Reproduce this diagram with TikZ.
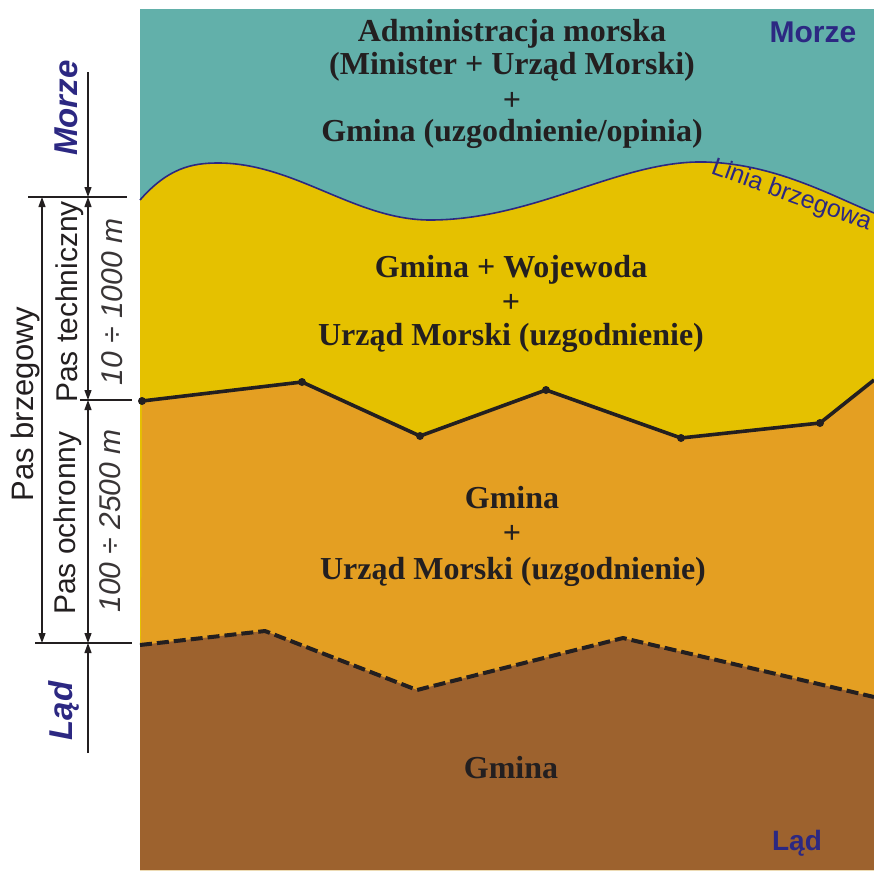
\documentclass[tikz,border=0pt]{standalone}
\usepackage{fontspec}
\setmainfont{Liberation Serif}
\setsansfont{Liberation Sans}
\usetikzlibrary{arrows.meta}
\definecolor{seaC}{RGB}{98,176,170}
\definecolor{techC}{RGB}{229,193,0}
\definecolor{protC}{RGB}{228,159,34}
\definecolor{landC}{RGB}{157,98,46}
\definecolor{navyC}{RGB}{44,40,130}
\definecolor{inkC}{RGB}{35,31,32}
\begin{document}
\begin{tikzpicture}[x=1pt,y=-1pt,
  maptext/.style={font=\fontsize{32}{34}\selectfont\bfseries, text=inkC, anchor=base, inner sep=0pt},
  sidetext/.style={font=\sffamily\fontsize{30}{30}\selectfont, text=inkC, anchor=base, inner sep=0pt, rotate=90},
  sidenum/.style={font=\sffamily\itshape\fontsize{30}{30}\selectfont, text=inkC!90, anchor=base, inner sep=0pt, rotate=90},
  sidezone/.style={font=\sffamily\bfseries\itshape\fontsize{33}{33}\selectfont, text=navyC, anchor=base, inner sep=0pt, rotate=90},
  cornerzone/.style={font=\sffamily\bfseries\fontsize{30}{30}\selectfont, text=navyC, anchor=base, inner sep=0pt},
  dimline/.style={draw=inkC, line width=1.2pt},
  dimarrow/.style={draw=inkC, line width=1.2pt, -{Triangle[length=10pt,width=7pt]}},
  dimboth/.style={draw=inkC, line width=1.2pt, {Triangle[length=10pt,width=7pt]}-{Triangle[length=10pt,width=7pt]}},
  vertex/.style={circle, fill=inkC, inner sep=0pt, minimum size=8pt}
]
\useasboundingbox (0,0) rectangle (874,870);

% ---- zones ----
\fill[seaC] (140,9) rectangle (874,870);
\fill[techC] (140,200) .. controls (168,168) and (192,163) .. (218,163)
  .. controls (295,163) and (355,220) .. (430,220)
  .. controls (535,220) and (620,160) .. (705,162)
  .. controls (775,164) and (830,195) .. (874,213)
  -- (874,870) -- (140,870) -- cycle;
\fill[protC] (142,401) -- (302,382) -- (420,436) -- (546,390) -- (681,438) -- (820,423) -- (874,380)
  -- (874,870) -- (140,870) -- cycle;
\fill[landC] (140,645) -- (265,631) -- (417,690) -- (623,638) -- (874,697)
  -- (874,870) -- (140,870) -- cycle;

% ---- boundaries ----
\draw[navyC, line width=1.6pt] (140,200) .. controls (168,168) and (192,163) .. (218,163)
  .. controls (295,163) and (355,220) .. (430,220)
  .. controls (535,220) and (620,160) .. (705,162)
  .. controls (775,164) and (830,195) .. (874,213);

\node[vertex] (v1) at (142,401) {};
\node[vertex] (v2) at (302,382) {};
\node[vertex] (v3) at (420,436) {};
\node[vertex] (v4) at (546,390) {};
\node[vertex] (v5) at (681,438) {};
\node[vertex] (v6) at (820,423) {};
\coordinate (v7) at (874,380);
\draw[inkC, line width=3.6pt, line join=round] (v1.center) -- (v2.center) -- (v3.center) -- (v4.center) -- (v5.center) -- (v6.center) -- (v7);

\coordinate (d1) at (140,645);
\coordinate (d2) at (265,631);
\coordinate (d3) at (417,690);
\coordinate (d4) at (623,638);
\coordinate (d5) at (874,697);
\draw[inkC, line width=4pt, dash pattern=on 12pt off 5pt, line join=round] (d1) -- (d2) -- (d3) -- (d4) -- (d5);

% ---- map texts ----
\node[maptext] (a1) at (512,41) {Administracja morska};
\node[maptext] (a2) at (512,74.5) {(Minister + Urząd Morski)};
\node[maptext] (a3) at (512,110) {+};
\node[maptext] (a4) at (512,141) {Gmina (uzgodnienie/opinia)};

\node[maptext] (b1) at (511,277) {Gmina + Wojewoda};
\node[maptext] (b2) at (511,312) {+};
\node[maptext] (b3) at (511,345) {Urząd Morski (uzgodnienie)};

\node[maptext] (c1) at (512,508) {Gmina};
\node[maptext] (c2) at (512,543) {+};
\node[maptext] (c3) at (513,579) {Urząd Morski (uzgodnienie)};

\node[maptext] (g1) at (511,778) {Gmina};

\node[cornerzone] (mz) at (813,42) {Morze};
\node[cornerzone, font=\sffamily\bfseries\fontsize{28}{28}\selectfont] (ld) at (797,850) {Ląd};

\node[font=\sffamily\fontsize{25}{25}\selectfont, text=navyC, anchor=base west, inner sep=0pt, rotate=-20] (lb) at (710,173) {Linia brzegowa};

% ---- left dimension scheme ----
\coordinate (m0) at (88,72);
\coordinate (t0) at (88,197);
\coordinate (t1) at (88,400);
\coordinate (o1) at (88,643);
\coordinate (l1) at (88,753);
\coordinate (bb0) at (42,197);
\coordinate (bb1) at (42,643);
\coordinate (h0a) at (28,197);
\coordinate (h0b) at (127,197);
\coordinate (h1a) at (80,400);
\coordinate (h1b) at (132,400);
\coordinate (h2a) at (35,643);
\coordinate (h2b) at (132,643);

\draw[dimline] (h0a) -- (h0b);
\draw[dimline] (h1a) -- (h1b);
\draw[dimline] (h2a) -- (h2b);
\draw[dimarrow] (m0) -- (t0);
\draw[dimboth] (t0) -- (t1);
\draw[dimboth] (t1) -- (o1);
\draw[dimarrow] (l1) -- (o1);
\draw[dimboth] (bb0) -- (bb1);

\node[sidezone] (lmz) at (77,108) {Morze};
\node[sidezone] (lld) at (72,711) {Ląd};
\node[sidetext, font=\sffamily\fontsize{31}{31}\selectfont] (pb) at (33,404) {Pas brzegowy};
\node[sidetext] (pt) at (77,302) {Pas techniczny};
\node[sidetext] (po) at (75,523) {Pas ochronny};
\node[sidenum] (n1) at (122,302) {10 ÷ 1000 m};
\node[sidenum] (n2) at (120,521) {100 ÷ 2500 m};
\end{tikzpicture}
\end{document}
